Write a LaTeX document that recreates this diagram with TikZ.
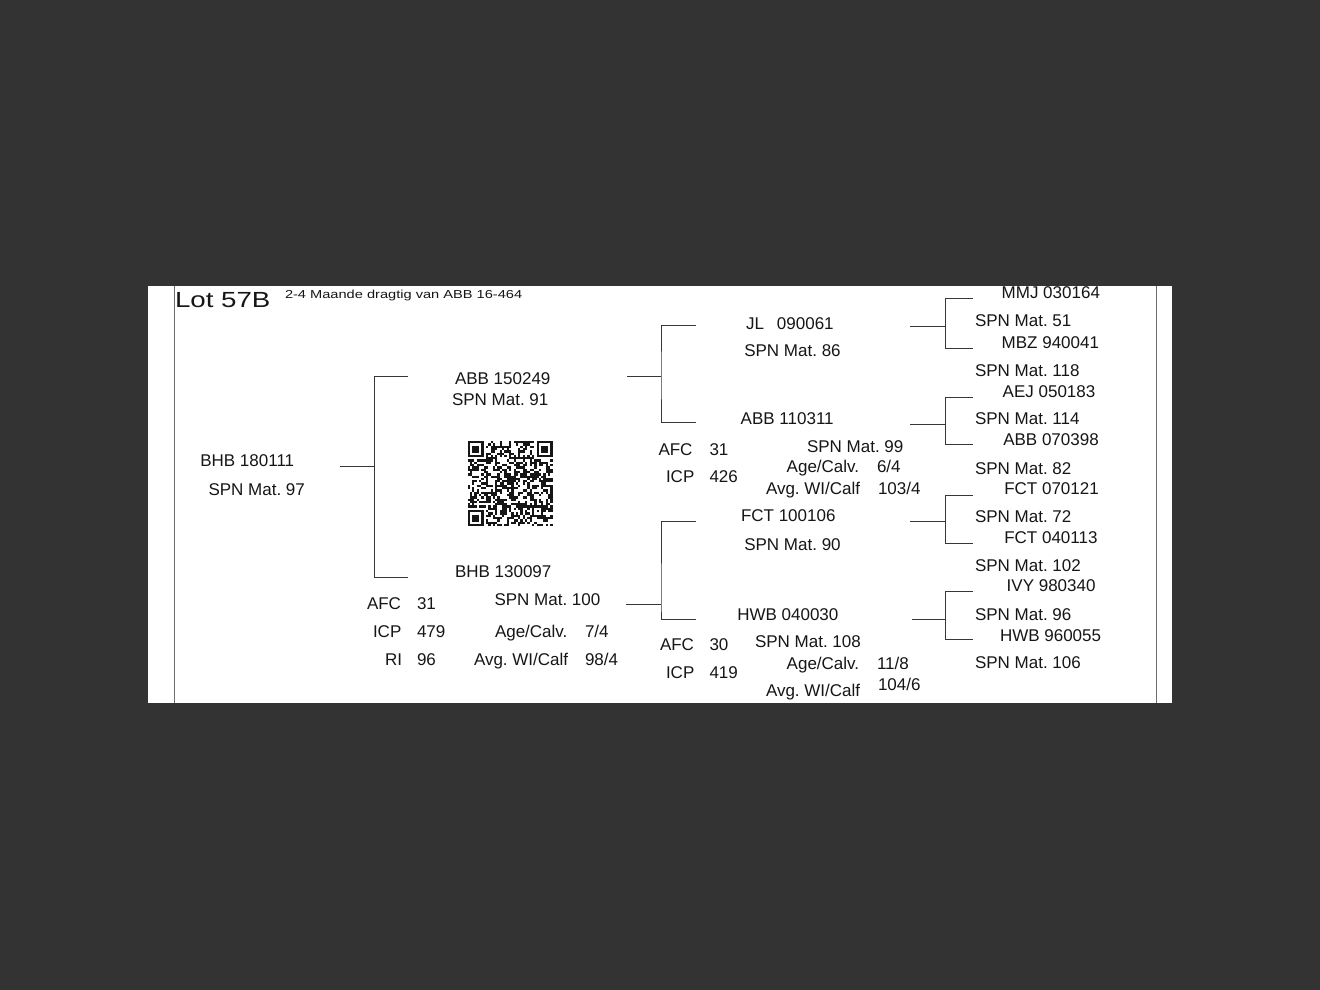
\documentclass[tikz,border=0pt]{standalone}
\usepackage{fontspec}
\setmainfont{Liberation Sans}
\frenchspacing
\definecolor{bgdark}{RGB}{51,51,51}
\definecolor{ink}{RGB}{22,22,22}
\definecolor{rulec}{RGB}{55,55,55}
\definecolor{framec}{RGB}{110,110,110}
\tikzset{
  lbl/.style={anchor=base west, inner sep=0pt, outer sep=0pt, text=ink, font=\fontsize{17}{20}\selectfont},
  biglbl/.style={anchor=base west, inner sep=0pt, outer sep=0pt, text=ink, font=\fontsize{21.9}{25}\selectfont},
  smalllbl/.style={anchor=base west, inner sep=0pt, outer sep=0pt, text=ink, font=\fontsize{11.6}{14}\selectfont},
  wire/.style={draw=rulec, line width=1pt},
  framerule/.style={draw=framec, line width=1pt}
}
\begin{document}
\begin{tikzpicture}[x=1pt,y=-1pt]
\fill[bgdark] (0,0) rectangle (1320,990);
\path[use as bounding box] (0,0) rectangle (1320,990);
\fill[white] (148,286) rectangle (1172,703);
\coordinate (fl1) at (174,286); \coordinate (fl2) at (174,703);
\coordinate (fr1) at (1156,286); \coordinate (fr2) at (1156,703);
\draw[framerule] (fl1) -- (fl2);
\draw[framerule] (fr1) -- (fr2);

% header
\node[biglbl] (lot) at (175,307.5) {\scalebox{1.265}[1]{Lot 57B}};
\node[smalllbl] (note) at (285,298.3) {\scalebox{1.26}[1]{2-4 Maande dragtig van ABB 16-464}};

% subject
\node[lbl] (p0id) at (200.3,466.7) {BHB 180111};
\node[lbl] (p0spn) at (208.5,495) {SPN Mat. 97};

% sire
\node[lbl] (sid) at (455,384.3) {ABB 150249};
\node[lbl] (sspn) at (452,405) {SPN Mat. 91};

% dam
\node[lbl] (did) at (455,577.3) {BHB 130097};
\node[lbl] (dafcL) at (367,609) {AFC};
\node[lbl] (dafcV) at (417,609) {31};
\node[lbl] (dspn) at (494.5,605.8) {SPN Mat. 100};
\node[lbl] (dicpL) at (373,637.5) {ICP};
\node[lbl] (dicpV) at (417,637.5) {479};
\node[lbl] (dageL) at (495,637.5) {Age/Calv.};
\node[lbl] (dageV) at (585,637.5) {7/4};
\node[lbl] (driL) at (385,665.5) {RI};
\node[lbl] (driV) at (417,665.5) {96};
\node[lbl] (davgL) at (474,665.5) {Avg. WI/Calf};
\node[lbl] (davgV) at (585,665.5) {98/4};

% sire's parents
\node[lbl] (ssid) at (746,329.3) {JL\hspace{13pt}090061};
\node[lbl] (ssspn) at (744.3,356) {SPN Mat. 86};
\node[lbl] (sdid) at (740.7,424.3) {ABB 110311};
\node[lbl] (sdafcL) at (658.5,455) {AFC};
\node[lbl] (sdafcV) at (709.5,455) {31};
\node[lbl] (sdspn) at (807,452.7) {SPN Mat. 99};
\node[lbl] (sdicpL) at (666,482.5) {ICP};
\node[lbl] (sdicpV) at (709.5,482.5) {426};
\node[lbl] (sdageL) at (786.7,472.8) {Age/Calv.};
\node[lbl] (sdageV) at (877,472.8) {6/4};
\node[lbl] (sdavgL) at (766,494) {Avg. WI/Calf};
\node[lbl] (sdavgV) at (878,494) {103/4};

% dam's parents
\node[lbl] (dsid) at (741,521.7) {FCT 100106};
\node[lbl] (dsspn) at (744.3,550.7) {SPN Mat. 90};
\node[lbl] (ddid) at (737.3,620) {HWB 040030};
\node[lbl] (ddafcL) at (660,650.3) {AFC};
\node[lbl] (ddafcV) at (709.5,650.3) {30};
\node[lbl] (ddspn) at (755,647.3) {SPN Mat. 108};
\node[lbl] (ddicpL) at (666,678.3) {ICP};
\node[lbl] (ddicpV) at (709.5,678.3) {419};
\node[lbl] (ddageL) at (786.7,669) {Age/Calv.};
\node[lbl] (ddageV) at (877,669) {11/8};
\node[lbl] (ddavgL) at (766,696) {Avg. WI/Calf};
\node[lbl] (ddavgV) at (878,690) {104/6};

% great-grandparents
\node[lbl] (g1) at (1001.7,298.5) {MMJ 030164};
\node[lbl] (g1s) at (975,326.8) {SPN Mat. 51};
\node[lbl] (g2) at (1001.7,348.3) {MBZ 940041};
\node[lbl] (g2s) at (975,376) {SPN Mat. 118};
\node[lbl] (g3) at (1002.7,397.3) {AEJ 050183};
\node[lbl] (g3s) at (975,424) {SPN Mat. 114};
\node[lbl] (g4) at (1003.3,445.7) {ABB 070398};
\node[lbl] (g4s) at (975,474.3) {SPN Mat. 82};
\node[lbl] (g5) at (1004.3,494) {FCT 070121};
\node[lbl] (g5s) at (975,522.3) {SPN Mat. 72};
\node[lbl] (g6) at (1004.3,543.3) {FCT 040113};
\node[lbl] (g6s) at (975,571.5) {SPN Mat. 102};
\node[lbl] (g7) at (1006.7,591.7) {IVY 980340};
\node[lbl] (g7s) at (975,620) {SPN Mat. 96};
\node[lbl] (g8) at (1000,641) {HWB 960055};
\node[lbl] (g8s) at (975,668) {SPN Mat. 106};

% brackets
\coordinate (c1) at (340,466.5); \coordinate (j1) at (374.5,466.5);
\coordinate (s1) at (408,376); \coordinate (d1) at (408,577);
\coordinate (c2) at (627,376.5); \coordinate (j2) at (661,376.5);
\coordinate (s2) at (696,325.5); \coordinate (d2) at (696,422);
\coordinate (c3) at (626,604.5); \coordinate (j3) at (661,604.5);
\coordinate (s3) at (696,521); \coordinate (d3) at (696,619);
\coordinate (c4) at (910,326.5); \coordinate (j4) at (945,326.5);
\coordinate (s4) at (973,298); \coordinate (d4) at (973,348);
\coordinate (c5) at (910,424.5); \coordinate (j5) at (945,424.5);
\coordinate (s5) at (973,397); \coordinate (d5) at (973,444.5);
\coordinate (c6) at (910,521.5); \coordinate (j6) at (945,521.5);
\coordinate (s6) at (973,495); \coordinate (d6) at (973,543);
\coordinate (c7) at (912,619); \coordinate (j7) at (945,619);
\coordinate (s7) at (973,591); \coordinate (d7) at (973,639.5);
\foreach \k in {1,...,7}{
  \draw[wire] (c\k) -- (j\k);
  \draw[wire] (s\k) -| (j\k) |- (d\k);
}

% QR code
\coordinate (qr) at (467.5,441);
\def\qrm{2.3}
\pgfmathsetseed{11}
\foreach \i in {0,...,36}{
  \foreach \j in {0,...,36}{
    \pgfmathsetmacro{\qrr}{rnd}
    \pgfmathtruncatemacro{\qskipv}{or(or(and(\i<8,\j<8),and(\i>28,\j<8)),or(or(and(\i<8,\j>28),and(and(\i>27,\i<33),and(\j>27,\j<33))),or(\i==6,\j==6)))}
    \ifnum\qskipv=0
      \pgfmathtruncatemacro{\qonv}{\qrr<0.5}
      \ifnum\qonv=1
        \fill[ink] (467.5+\i*\qrm,441+\j*\qrm) rectangle ++(\qrm,\qrm);
      \fi
    \fi
  }
}
% timing patterns
\foreach \t in {8,10,...,28}{
  \fill[ink] (467.5+\t*\qrm,441+6*\qrm) rectangle ++(\qrm,\qrm);
  \fill[ink] (467.5+6*\qrm,441+\t*\qrm) rectangle ++(\qrm,\qrm);
}
% finder patterns
\foreach \fx/\fy in {0/0,30/0,0/30}{
  \fill[ink] (467.5+\fx*\qrm,441+\fy*\qrm) rectangle ++(7*\qrm,7*\qrm);
  \fill[white] (467.5+\fx*\qrm+\qrm,441+\fy*\qrm+\qrm) rectangle ++(5*\qrm,5*\qrm);
  \fill[ink] (467.5+\fx*\qrm+2*\qrm,441+\fy*\qrm+2*\qrm) rectangle ++(3*\qrm,3*\qrm);
}
% alignment pattern
\fill[ink] (467.5+28*\qrm,441+28*\qrm) rectangle ++(5*\qrm,5*\qrm);
\fill[white] (467.5+29*\qrm,441+29*\qrm) rectangle ++(3*\qrm,3*\qrm);
\fill[ink] (467.5+30*\qrm,441+30*\qrm) rectangle ++(\qrm,\qrm);
\end{tikzpicture}
\end{document}
